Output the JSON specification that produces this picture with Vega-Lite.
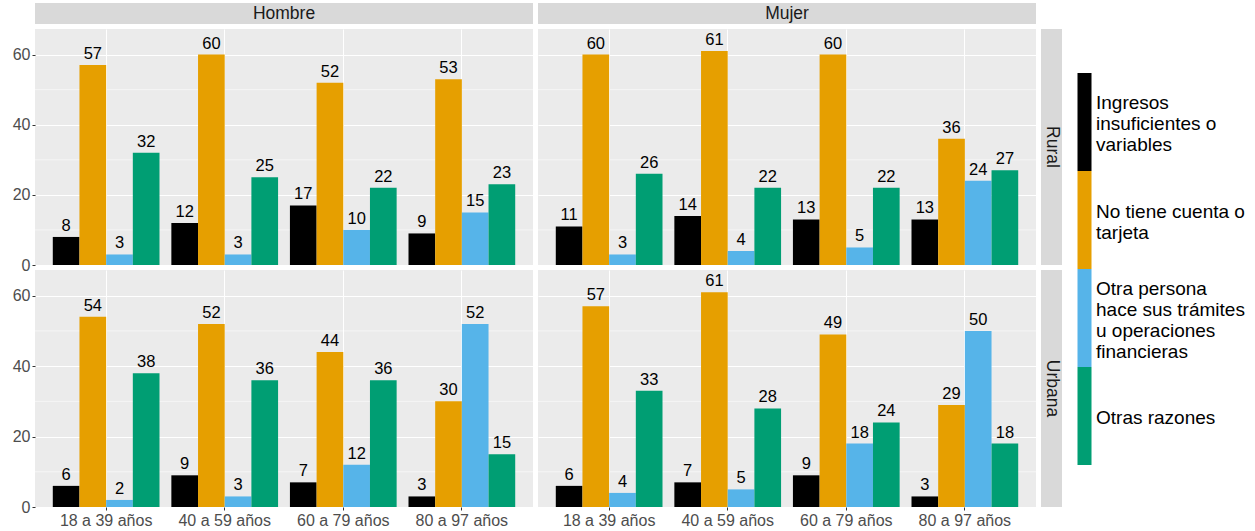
{
  "$schema": "https://vega.github.io/schema/vega-lite/v6.json",
  "padding": {"left": 12, "top": 3, "right": 5, "bottom": 5},
  "background": "#FFFFFF",
  "bounds": "flush",
  "columns": 3,
  "spacing": {"row": 5, "column": 5},
  "resolve": {"scale": {"x": "independent", "y": "independent"}},
  "datasets": {
    "d": [
      {"sexo": "Hombre", "area": "Rural", "edad": "18 a 39 años", "razon": "Ingresos insuficientes o variables", "pct": 8},
      {"sexo": "Hombre", "area": "Rural", "edad": "18 a 39 años", "razon": "No tiene cuenta o tarjeta", "pct": 57},
      {"sexo": "Hombre", "area": "Rural", "edad": "18 a 39 años", "razon": "Otra persona hace sus trámites u operaciones financieras", "pct": 3},
      {"sexo": "Hombre", "area": "Rural", "edad": "18 a 39 años", "razon": "Otras razones", "pct": 32},
      {"sexo": "Hombre", "area": "Rural", "edad": "40 a 59 años", "razon": "Ingresos insuficientes o variables", "pct": 12},
      {"sexo": "Hombre", "area": "Rural", "edad": "40 a 59 años", "razon": "No tiene cuenta o tarjeta", "pct": 60},
      {"sexo": "Hombre", "area": "Rural", "edad": "40 a 59 años", "razon": "Otra persona hace sus trámites u operaciones financieras", "pct": 3},
      {"sexo": "Hombre", "area": "Rural", "edad": "40 a 59 años", "razon": "Otras razones", "pct": 25},
      {"sexo": "Hombre", "area": "Rural", "edad": "60 a 79 años", "razon": "Ingresos insuficientes o variables", "pct": 17},
      {"sexo": "Hombre", "area": "Rural", "edad": "60 a 79 años", "razon": "No tiene cuenta o tarjeta", "pct": 52},
      {"sexo": "Hombre", "area": "Rural", "edad": "60 a 79 años", "razon": "Otra persona hace sus trámites u operaciones financieras", "pct": 10},
      {"sexo": "Hombre", "area": "Rural", "edad": "60 a 79 años", "razon": "Otras razones", "pct": 22},
      {"sexo": "Hombre", "area": "Rural", "edad": "80 a 97 años", "razon": "Ingresos insuficientes o variables", "pct": 9},
      {"sexo": "Hombre", "area": "Rural", "edad": "80 a 97 años", "razon": "No tiene cuenta o tarjeta", "pct": 53},
      {"sexo": "Hombre", "area": "Rural", "edad": "80 a 97 años", "razon": "Otra persona hace sus trámites u operaciones financieras", "pct": 15},
      {"sexo": "Hombre", "area": "Rural", "edad": "80 a 97 años", "razon": "Otras razones", "pct": 23},
      {"sexo": "Mujer", "area": "Rural", "edad": "18 a 39 años", "razon": "Ingresos insuficientes o variables", "pct": 11},
      {"sexo": "Mujer", "area": "Rural", "edad": "18 a 39 años", "razon": "No tiene cuenta o tarjeta", "pct": 60},
      {"sexo": "Mujer", "area": "Rural", "edad": "18 a 39 años", "razon": "Otra persona hace sus trámites u operaciones financieras", "pct": 3},
      {"sexo": "Mujer", "area": "Rural", "edad": "18 a 39 años", "razon": "Otras razones", "pct": 26},
      {"sexo": "Mujer", "area": "Rural", "edad": "40 a 59 años", "razon": "Ingresos insuficientes o variables", "pct": 14},
      {"sexo": "Mujer", "area": "Rural", "edad": "40 a 59 años", "razon": "No tiene cuenta o tarjeta", "pct": 61},
      {"sexo": "Mujer", "area": "Rural", "edad": "40 a 59 años", "razon": "Otra persona hace sus trámites u operaciones financieras", "pct": 4},
      {"sexo": "Mujer", "area": "Rural", "edad": "40 a 59 años", "razon": "Otras razones", "pct": 22},
      {"sexo": "Mujer", "area": "Rural", "edad": "60 a 79 años", "razon": "Ingresos insuficientes o variables", "pct": 13},
      {"sexo": "Mujer", "area": "Rural", "edad": "60 a 79 años", "razon": "No tiene cuenta o tarjeta", "pct": 60},
      {"sexo": "Mujer", "area": "Rural", "edad": "60 a 79 años", "razon": "Otra persona hace sus trámites u operaciones financieras", "pct": 5},
      {"sexo": "Mujer", "area": "Rural", "edad": "60 a 79 años", "razon": "Otras razones", "pct": 22},
      {"sexo": "Mujer", "area": "Rural", "edad": "80 a 97 años", "razon": "Ingresos insuficientes o variables", "pct": 13},
      {"sexo": "Mujer", "area": "Rural", "edad": "80 a 97 años", "razon": "No tiene cuenta o tarjeta", "pct": 36},
      {"sexo": "Mujer", "area": "Rural", "edad": "80 a 97 años", "razon": "Otra persona hace sus trámites u operaciones financieras", "pct": 24},
      {"sexo": "Mujer", "area": "Rural", "edad": "80 a 97 años", "razon": "Otras razones", "pct": 27},
      {"sexo": "Hombre", "area": "Urbana", "edad": "18 a 39 años", "razon": "Ingresos insuficientes o variables", "pct": 6},
      {"sexo": "Hombre", "area": "Urbana", "edad": "18 a 39 años", "razon": "No tiene cuenta o tarjeta", "pct": 54},
      {"sexo": "Hombre", "area": "Urbana", "edad": "18 a 39 años", "razon": "Otra persona hace sus trámites u operaciones financieras", "pct": 2},
      {"sexo": "Hombre", "area": "Urbana", "edad": "18 a 39 años", "razon": "Otras razones", "pct": 38},
      {"sexo": "Hombre", "area": "Urbana", "edad": "40 a 59 años", "razon": "Ingresos insuficientes o variables", "pct": 9},
      {"sexo": "Hombre", "area": "Urbana", "edad": "40 a 59 años", "razon": "No tiene cuenta o tarjeta", "pct": 52},
      {"sexo": "Hombre", "area": "Urbana", "edad": "40 a 59 años", "razon": "Otra persona hace sus trámites u operaciones financieras", "pct": 3},
      {"sexo": "Hombre", "area": "Urbana", "edad": "40 a 59 años", "razon": "Otras razones", "pct": 36},
      {"sexo": "Hombre", "area": "Urbana", "edad": "60 a 79 años", "razon": "Ingresos insuficientes o variables", "pct": 7},
      {"sexo": "Hombre", "area": "Urbana", "edad": "60 a 79 años", "razon": "No tiene cuenta o tarjeta", "pct": 44},
      {"sexo": "Hombre", "area": "Urbana", "edad": "60 a 79 años", "razon": "Otra persona hace sus trámites u operaciones financieras", "pct": 12},
      {"sexo": "Hombre", "area": "Urbana", "edad": "60 a 79 años", "razon": "Otras razones", "pct": 36},
      {"sexo": "Hombre", "area": "Urbana", "edad": "80 a 97 años", "razon": "Ingresos insuficientes o variables", "pct": 3},
      {"sexo": "Hombre", "area": "Urbana", "edad": "80 a 97 años", "razon": "No tiene cuenta o tarjeta", "pct": 30},
      {"sexo": "Hombre", "area": "Urbana", "edad": "80 a 97 años", "razon": "Otra persona hace sus trámites u operaciones financieras", "pct": 52},
      {"sexo": "Hombre", "area": "Urbana", "edad": "80 a 97 años", "razon": "Otras razones", "pct": 15},
      {"sexo": "Mujer", "area": "Urbana", "edad": "18 a 39 años", "razon": "Ingresos insuficientes o variables", "pct": 6},
      {"sexo": "Mujer", "area": "Urbana", "edad": "18 a 39 años", "razon": "No tiene cuenta o tarjeta", "pct": 57},
      {"sexo": "Mujer", "area": "Urbana", "edad": "18 a 39 años", "razon": "Otra persona hace sus trámites u operaciones financieras", "pct": 4},
      {"sexo": "Mujer", "area": "Urbana", "edad": "18 a 39 años", "razon": "Otras razones", "pct": 33},
      {"sexo": "Mujer", "area": "Urbana", "edad": "40 a 59 años", "razon": "Ingresos insuficientes o variables", "pct": 7},
      {"sexo": "Mujer", "area": "Urbana", "edad": "40 a 59 años", "razon": "No tiene cuenta o tarjeta", "pct": 61},
      {"sexo": "Mujer", "area": "Urbana", "edad": "40 a 59 años", "razon": "Otra persona hace sus trámites u operaciones financieras", "pct": 5},
      {"sexo": "Mujer", "area": "Urbana", "edad": "40 a 59 años", "razon": "Otras razones", "pct": 28},
      {"sexo": "Mujer", "area": "Urbana", "edad": "60 a 79 años", "razon": "Ingresos insuficientes o variables", "pct": 9},
      {"sexo": "Mujer", "area": "Urbana", "edad": "60 a 79 años", "razon": "No tiene cuenta o tarjeta", "pct": 49},
      {"sexo": "Mujer", "area": "Urbana", "edad": "60 a 79 años", "razon": "Otra persona hace sus trámites u operaciones financieras", "pct": 18},
      {"sexo": "Mujer", "area": "Urbana", "edad": "60 a 79 años", "razon": "Otras razones", "pct": 24},
      {"sexo": "Mujer", "area": "Urbana", "edad": "80 a 97 años", "razon": "Ingresos insuficientes o variables", "pct": 3},
      {"sexo": "Mujer", "area": "Urbana", "edad": "80 a 97 años", "razon": "No tiene cuenta o tarjeta", "pct": 29},
      {"sexo": "Mujer", "area": "Urbana", "edad": "80 a 97 años", "razon": "Otra persona hace sus trámites u operaciones financieras", "pct": 50},
      {"sexo": "Mujer", "area": "Urbana", "edad": "80 a 97 años", "razon": "Otras razones", "pct": 18}
    ],
    "minor": [{"g": 10}, {"g": 30}, {"g": 50}]
  },
  "concat": [
    {
      "width": 498, "height": 21,
      "view": {"fill": "#D9D9D9", "stroke": null},
      "data": {"values": [{"t": "Hombre"}]},
      "mark": {"type": "text", "fontSize": 17.5, "color": "#1A1A1A"},
      "encoding": {"text": {"field": "t"}}
    },
    {
      "width": 498, "height": 21,
      "view": {"fill": "#D9D9D9", "stroke": null},
      "data": {"values": [{"t": "Mujer"}]},
      "mark": {"type": "text", "fontSize": 17.5, "color": "#1A1A1A"},
      "encoding": {"text": {"field": "t"}}
    },
    {
      "width": 21, "height": 21,
      "view": {"fill": null, "stroke": null},
      "data": {"values": [{"t": ""}]},
      "mark": {"type": "text"},
      "encoding": {"text": {"field": "t"}}
    },
    {
      "width": 498, "height": 236,
      "layer": [
        {
          "data": {"name": "minor"},
          "mark": {"type": "rule", "color": "#FFFFFF", "strokeWidth": 0.55},
          "encoding": {
            "y": {"field": "g", "type": "quantitative", "scale": {"domain": [0, 67.3], "nice": false}, "axis": {"values": [0, 20, 40, 60], "grid": true, "title": null}}
          }
        },
        {
          "data": {"name": "d"},
          "transform": [{"filter": "datum.sexo == 'Hombre' && datum.area == 'Rural'"}],
          "mark": {"type": "bar"},
          "encoding": {
            "x": {"field": "edad", "type": "nominal", "scale": {"domain": ["18 a 39 años", "40 a 59 años", "60 a 79 años", "80 a 97 años"], "paddingInner": 0.1, "paddingOuter": 0.15}, "axis": {"labels": false, "ticks": false, "grid": true, "bandPosition": 0.5, "title": null}},
            "xOffset": {"field": "razon", "type": "nominal", "scale": {"domain": ["Ingresos insuficientes o variables", "No tiene cuenta o tarjeta", "Otra persona hace sus trámites u operaciones financieras", "Otras razones"], "paddingInner": 0, "paddingOuter": 0}},
            "y": {"field": "pct", "type": "quantitative", "scale": {"domain": [0, 67.3], "nice": false}, "axis": {"values": [0, 20, 40, 60], "grid": true, "title": null}},
            "color": {"field": "razon", "type": "nominal", "scale": {"domain": ["Ingresos insuficientes o variables", "No tiene cuenta o tarjeta", "Otra persona hace sus trámites u operaciones financieras", "Otras razones"], "range": ["#000000", "#E69F00", "#56B4E9", "#009E73"]},
              "legend": {"title": null, "orient": "none", "legendX": 1040, "legendY": 78, "symbolType": "M-1,-2.5H1V11.5H-1Z", "symbolSize": 196, "symbolStrokeWidth": 0, "symbolOpacity": 1, "labelFontSize": 19, "labelColor": "#000000", "labelLimit": 400, "labelOffset": 2, "rowPadding": 0,
                "labelExpr": "datum.label == 'Ingresos insuficientes o variables' ? ['Ingresos', 'insuficientes o', 'variables'] : datum.label == 'No tiene cuenta o tarjeta' ? ['No tiene cuenta o', 'tarjeta'] : datum.label == 'Otra persona hace sus trámites u operaciones financieras' ? ['Otra persona', 'hace sus trámites', 'u operaciones', 'financieras'] : datum.label",
                "encode": {"labels": {"update": {"dy": {"signal": "datum.value == 'Ingresos insuficientes o variables' ? 12.5 : datum.value == 'No tiene cuenta o tarjeta' ? 23 : datum.value == 'Otras razones' ? 33.5 : 2"}}}}}}
          }
        },
        {
          "data": {"name": "d"},
          "transform": [{"filter": "datum.sexo == 'Hombre' && datum.area == 'Rural'"}],
          "mark": {"type": "text", "baseline": "alphabetic", "dy": -6, "fontSize": 16.5, "color": "#000000"},
          "encoding": {
            "x": {"field": "edad", "type": "nominal"},
            "xOffset": {"field": "razon", "type": "nominal"},
            "y": {"field": "pct", "type": "quantitative"},
            "text": {"field": "pct", "type": "quantitative", "format": ".0f"}
          }
        }
      ]
    },
    {
      "width": 498, "height": 236,
      "layer": [
        {
          "data": {"name": "minor"},
          "mark": {"type": "rule", "color": "#FFFFFF", "strokeWidth": 0.55},
          "encoding": {
            "y": {"field": "g", "type": "quantitative", "scale": {"domain": [0, 67.3], "nice": false}, "axis": {"values": [0, 20, 40, 60], "grid": true, "labels": false, "ticks": false, "title": null}}
          }
        },
        {
          "data": {"name": "d"},
          "transform": [{"filter": "datum.sexo == 'Mujer' && datum.area == 'Rural'"}],
          "mark": {"type": "bar"},
          "encoding": {
            "x": {"field": "edad", "type": "nominal", "scale": {"domain": ["18 a 39 años", "40 a 59 años", "60 a 79 años", "80 a 97 años"], "paddingInner": 0.1, "paddingOuter": 0.15}, "axis": {"labels": false, "ticks": false, "grid": true, "bandPosition": 0.5, "title": null}},
            "xOffset": {"field": "razon", "type": "nominal", "scale": {"domain": ["Ingresos insuficientes o variables", "No tiene cuenta o tarjeta", "Otra persona hace sus trámites u operaciones financieras", "Otras razones"], "paddingInner": 0, "paddingOuter": 0}},
            "y": {"field": "pct", "type": "quantitative", "scale": {"domain": [0, 67.3], "nice": false}, "axis": {"values": [0, 20, 40, 60], "grid": true, "labels": false, "ticks": false, "title": null}},
            "color": {"field": "razon", "type": "nominal", "scale": {"domain": ["Ingresos insuficientes o variables", "No tiene cuenta o tarjeta", "Otra persona hace sus trámites u operaciones financieras", "Otras razones"], "range": ["#000000", "#E69F00", "#56B4E9", "#009E73"]},
              "legend": {"title": null, "orient": "none", "legendX": 1040, "legendY": 78, "symbolType": "M-1,-2.5H1V11.5H-1Z", "symbolSize": 196, "symbolStrokeWidth": 0, "symbolOpacity": 1, "labelFontSize": 19, "labelColor": "#000000", "labelLimit": 400, "labelOffset": 2, "rowPadding": 0,
                "labelExpr": "datum.label == 'Ingresos insuficientes o variables' ? ['Ingresos', 'insuficientes o', 'variables'] : datum.label == 'No tiene cuenta o tarjeta' ? ['No tiene cuenta o', 'tarjeta'] : datum.label == 'Otra persona hace sus trámites u operaciones financieras' ? ['Otra persona', 'hace sus trámites', 'u operaciones', 'financieras'] : datum.label",
                "encode": {"labels": {"update": {"dy": {"signal": "datum.value == 'Ingresos insuficientes o variables' ? 12.5 : datum.value == 'No tiene cuenta o tarjeta' ? 23 : datum.value == 'Otras razones' ? 33.5 : 2"}}}}}}
          }
        },
        {
          "data": {"name": "d"},
          "transform": [{"filter": "datum.sexo == 'Mujer' && datum.area == 'Rural'"}],
          "mark": {"type": "text", "baseline": "alphabetic", "dy": -6, "fontSize": 16.5, "color": "#000000"},
          "encoding": {
            "x": {"field": "edad", "type": "nominal"},
            "xOffset": {"field": "razon", "type": "nominal"},
            "y": {"field": "pct", "type": "quantitative"},
            "text": {"field": "pct", "type": "quantitative", "format": ".0f"}
          }
        }
      ]
    },
    {
      "width": 21, "height": 236,
      "view": {"fill": "#D9D9D9", "stroke": null},
      "data": {"values": [{"t": "Rural"}]},
      "mark": {"type": "text", "fontSize": 17.5, "color": "#1A1A1A", "angle": 90},
      "encoding": {"text": {"field": "t"}}
    },
    {
      "width": 498, "height": 237,
      "layer": [
        {
          "data": {"name": "minor"},
          "mark": {"type": "rule", "color": "#FFFFFF", "strokeWidth": 0.55},
          "encoding": {
            "y": {"field": "g", "type": "quantitative", "scale": {"domain": [0, 67.3], "nice": false}, "axis": {"values": [0, 20, 40, 60], "grid": true, "title": null}}
          }
        },
        {
          "data": {"name": "d"},
          "transform": [{"filter": "datum.sexo == 'Hombre' && datum.area == 'Urbana'"}],
          "mark": {"type": "bar"},
          "encoding": {
            "x": {"field": "edad", "type": "nominal", "scale": {"domain": ["18 a 39 años", "40 a 59 años", "60 a 79 años", "80 a 97 años"], "paddingInner": 0.1, "paddingOuter": 0.15}, "axis": {"grid": true, "bandPosition": 0.5, "labelAngle": 0, "title": null}},
            "xOffset": {"field": "razon", "type": "nominal", "scale": {"domain": ["Ingresos insuficientes o variables", "No tiene cuenta o tarjeta", "Otra persona hace sus trámites u operaciones financieras", "Otras razones"], "paddingInner": 0, "paddingOuter": 0}},
            "y": {"field": "pct", "type": "quantitative", "scale": {"domain": [0, 67.3], "nice": false}, "axis": {"values": [0, 20, 40, 60], "grid": true, "title": null}},
            "color": {"field": "razon", "type": "nominal", "scale": {"domain": ["Ingresos insuficientes o variables", "No tiene cuenta o tarjeta", "Otra persona hace sus trámites u operaciones financieras", "Otras razones"], "range": ["#000000", "#E69F00", "#56B4E9", "#009E73"]},
              "legend": {"title": null, "orient": "none", "legendX": 1040, "legendY": 78, "symbolType": "M-1,-2.5H1V11.5H-1Z", "symbolSize": 196, "symbolStrokeWidth": 0, "symbolOpacity": 1, "labelFontSize": 19, "labelColor": "#000000", "labelLimit": 400, "labelOffset": 2, "rowPadding": 0,
                "labelExpr": "datum.label == 'Ingresos insuficientes o variables' ? ['Ingresos', 'insuficientes o', 'variables'] : datum.label == 'No tiene cuenta o tarjeta' ? ['No tiene cuenta o', 'tarjeta'] : datum.label == 'Otra persona hace sus trámites u operaciones financieras' ? ['Otra persona', 'hace sus trámites', 'u operaciones', 'financieras'] : datum.label",
                "encode": {"labels": {"update": {"dy": {"signal": "datum.value == 'Ingresos insuficientes o variables' ? 12.5 : datum.value == 'No tiene cuenta o tarjeta' ? 23 : datum.value == 'Otras razones' ? 33.5 : 2"}}}}}}
          }
        },
        {
          "data": {"name": "d"},
          "transform": [{"filter": "datum.sexo == 'Hombre' && datum.area == 'Urbana'"}],
          "mark": {"type": "text", "baseline": "alphabetic", "dy": -6, "fontSize": 16.5, "color": "#000000"},
          "encoding": {
            "x": {"field": "edad", "type": "nominal"},
            "xOffset": {"field": "razon", "type": "nominal"},
            "y": {"field": "pct", "type": "quantitative"},
            "text": {"field": "pct", "type": "quantitative", "format": ".0f"}
          }
        }
      ]
    },
    {
      "width": 498, "height": 237,
      "layer": [
        {
          "data": {"name": "minor"},
          "mark": {"type": "rule", "color": "#FFFFFF", "strokeWidth": 0.55},
          "encoding": {
            "y": {"field": "g", "type": "quantitative", "scale": {"domain": [0, 67.3], "nice": false}, "axis": {"values": [0, 20, 40, 60], "grid": true, "labels": false, "ticks": false, "title": null}}
          }
        },
        {
          "data": {"name": "d"},
          "transform": [{"filter": "datum.sexo == 'Mujer' && datum.area == 'Urbana'"}],
          "mark": {"type": "bar"},
          "encoding": {
            "x": {"field": "edad", "type": "nominal", "scale": {"domain": ["18 a 39 años", "40 a 59 años", "60 a 79 años", "80 a 97 años"], "paddingInner": 0.1, "paddingOuter": 0.15}, "axis": {"grid": true, "bandPosition": 0.5, "labelAngle": 0, "title": null}},
            "xOffset": {"field": "razon", "type": "nominal", "scale": {"domain": ["Ingresos insuficientes o variables", "No tiene cuenta o tarjeta", "Otra persona hace sus trámites u operaciones financieras", "Otras razones"], "paddingInner": 0, "paddingOuter": 0}},
            "y": {"field": "pct", "type": "quantitative", "scale": {"domain": [0, 67.3], "nice": false}, "axis": {"values": [0, 20, 40, 60], "grid": true, "labels": false, "ticks": false, "title": null}},
            "color": {"field": "razon", "type": "nominal", "scale": {"domain": ["Ingresos insuficientes o variables", "No tiene cuenta o tarjeta", "Otra persona hace sus trámites u operaciones financieras", "Otras razones"], "range": ["#000000", "#E69F00", "#56B4E9", "#009E73"]},
              "legend": {"title": null, "orient": "none", "legendX": 1040, "legendY": 78, "symbolType": "M-1,-2.5H1V11.5H-1Z", "symbolSize": 196, "symbolStrokeWidth": 0, "symbolOpacity": 1, "labelFontSize": 19, "labelColor": "#000000", "labelLimit": 400, "labelOffset": 2, "rowPadding": 0,
                "labelExpr": "datum.label == 'Ingresos insuficientes o variables' ? ['Ingresos', 'insuficientes o', 'variables'] : datum.label == 'No tiene cuenta o tarjeta' ? ['No tiene cuenta o', 'tarjeta'] : datum.label == 'Otra persona hace sus trámites u operaciones financieras' ? ['Otra persona', 'hace sus trámites', 'u operaciones', 'financieras'] : datum.label",
                "encode": {"labels": {"update": {"dy": {"signal": "datum.value == 'Ingresos insuficientes o variables' ? 12.5 : datum.value == 'No tiene cuenta o tarjeta' ? 23 : datum.value == 'Otras razones' ? 33.5 : 2"}}}}}}
          }
        },
        {
          "data": {"name": "d"},
          "transform": [{"filter": "datum.sexo == 'Mujer' && datum.area == 'Urbana'"}],
          "mark": {"type": "text", "baseline": "alphabetic", "dy": -6, "fontSize": 16.5, "color": "#000000"},
          "encoding": {
            "x": {"field": "edad", "type": "nominal"},
            "xOffset": {"field": "razon", "type": "nominal"},
            "y": {"field": "pct", "type": "quantitative"},
            "text": {"field": "pct", "type": "quantitative", "format": ".0f"}
          }
        }
      ]
    },
    {
      "width": 21, "height": 237,
      "view": {"fill": "#D9D9D9", "stroke": null},
      "data": {"values": [{"t": "Urbana"}]},
      "mark": {"type": "text", "fontSize": 17.5, "color": "#1A1A1A", "angle": 90},
      "encoding": {"text": {"field": "t"}}
    }
  ],
  "config": {
    "font": "Liberation Sans",
    "view": {"fill": "#EBEBEB", "stroke": null},
    "axis": {"domain": false, "gridColor": "#FFFFFF", "gridWidth": 1.1, "gridOpacity": 1, "tickColor": "#333333", "tickSize": 3, "tickWidth": 1, "labelColor": "#4D4D4D", "labelFontSize": 16, "labelPadding": 2},
    "style": {"guide-label": {"lineHeight": 21}}
  }
}
